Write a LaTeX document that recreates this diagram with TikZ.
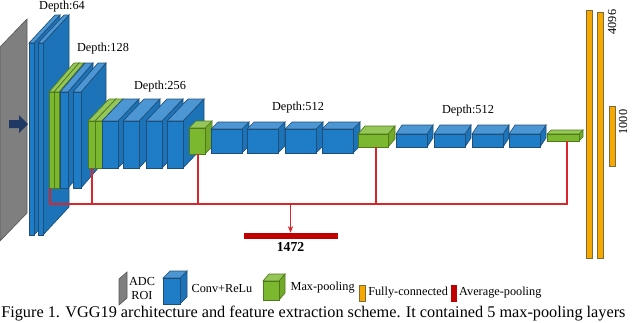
\documentclass[tikz,border=0pt]{standalone}
\usepackage{fontspec}
\setmainfont{Liberation Serif}
\usepackage{xcolor}
\definecolor{convBlue}{HTML}{1F7DC8}
\definecolor{convEdge}{HTML}{1F4E79}
\definecolor{poolGreen}{HTML}{7CB82F}
\definecolor{poolEdge}{HTML}{4E7A1A}
\definecolor{roiGray}{HTML}{7F7F7F}
\definecolor{roiEdge}{HTML}{595959}
\definecolor{fcOrange}{HTML}{F5A800}
\definecolor{fcEdge}{HTML}{7F6A3A}
\definecolor{avgRed}{HTML}{C00000}
\definecolor{linkRed}{HTML}{D9262B}
\definecolor{arrowNavy}{HTML}{1F3864}
\usepackage{tikz}
\usetikzlibrary{arrows.meta, positioning, calc}

% cuboid: front face top-left (x,y), width, height, depth dx, dy, fill, edge
\newcommand{\layerbox}[8]{%
  \filldraw[draw=#8, fill=#7!92!black, line width=0.5pt] (#1+#3,#2) -- ++(#5,-#6) -- ++(0,#4) -- ++(-#5,#6) -- cycle;
  \filldraw[draw=#8, fill=#7!80!white, line width=0.5pt] (#1,#2) -- ++(#5,-#6) -- ++(#3,0) -- ++(-#5,#6) -- cycle;
  \filldraw[draw=#8, fill=#7, line width=0.5pt] (#1,#2) rectangle ++(#3,#4);
}

\begin{document}
\begin{tikzpicture}[
    x=0.75pt, y=-0.75pt,
    depthLbl/.style={font=\fontsize{9.2}{10.5}\selectfont, inner sep=1pt},
    legendTxt/.style={font=\fontsize{9.2}{10.5}\selectfont, inner sep=1pt},
    captionTxt/.style={font=\fontsize{12.2}{14}\selectfont, inner sep=0pt},
    fcBar/.style={draw=fcEdge, fill=fcOrange, line width=0.5pt, inner sep=0pt, minimum width=4.5pt},
    avgBar/.style={draw=avgRed, fill=avgRed, inner sep=0pt},
    redLine/.style={draw=linkRed, line width=0.9pt}
]
\useasboundingbox (0,0) rectangle (640,322);
\clip (0,0) rectangle (640,322);

% input ROI and arrow
\filldraw[draw=roiEdge, fill=roiGray, line width=0.5pt] (0,47) -- (27,19) -- (27,213) -- (0,241) -- cycle;
\fill[arrowNavy] (9,120) -- (19,120) -- (19,115) -- (28,124) -- (19,133) -- (19,128) -- (9,128) -- cycle;

% Depth:64
\foreach \x in {29,38} {\layerbox{\x}{43}{5}{192}{26}{28}{convBlue}{convEdge}}
\node[depthLbl] (d64) at (62,6.5) {Depth:64};

% Depth:128
\foreach \x in {49,54} {\layerbox{\x}{92}{5}{96}{25}{29}{poolGreen}{poolEdge}}
\foreach \x in {60,73} {\layerbox{\x}{92}{8}{96}{25}{29}{convBlue}{convEdge}}
\node[depthLbl] (d128) at (103,49) {Depth:128};

% Depth:256
\foreach \x in {88,95} {\layerbox{\x}{121}{7}{47}{21}{22}{poolGreen}{poolEdge}}
\foreach \x in {102,123,146,167} {\layerbox{\x}{121}{16}{47}{21}{22}{convBlue}{convEdge}}
\node[depthLbl] (d256) at (160,87) {Depth:256};

% Depth:512
\layerbox{189}{128}{16}{26}{7}{7}{poolGreen}{poolEdge}
\foreach \x in {211,247,285,322} {\layerbox{\x}{129}{31}{24}{7}{7}{convBlue}{convEdge}}
\node[depthLbl] (d512a) at (298,108) {Depth:512};

% Depth:512
\layerbox{358}{134}{30}{13}{7}{8}{poolGreen}{poolEdge}
\foreach \x in {396,434,472,509} {\layerbox{\x}{134}{31}{13}{6}{9}{convBlue}{convEdge}}
\node[depthLbl] (d512b) at (468,111) {Depth:512};
\layerbox{547}{134}{32}{7}{4}{4}{poolGreen}{poolEdge}

% fully-connected
\node[fcBar, minimum height=186pt] (fc1) at (589,134) {};
\node[fcBar, minimum height=184.5pt] (fc2) at (600,135) {};
\node[fcBar, minimum height=45pt] (fc3) at (612,136) {};
\node[depthLbl, rotate=90] (n4096) at (612,22) {4096};
\node[depthLbl, rotate=90] (n1000) at (623,122) {1000};

% average-pooling taps
\coordinate (tap1) at (50,188);
\coordinate (tap2) at (92,168);
\coordinate (tap3) at (198,154);
\coordinate (tap4) at (376,147);
\coordinate (tap5) at (567,141);
\coordinate (bus) at (0,204);
\node[avgBar, minimum width=69.75pt, minimum height=3.75pt] (avg) at (290.5,235.5) {};
\node[font=\fontsize{10.3}{12}\selectfont\bfseries, inner sep=1pt, below=2pt of avg] (avgLbl) {1472};
\draw[redLine] (tap1) -- (tap1 |- bus) -- (tap5 |- bus) -- (tap5);
\foreach \t in {tap2,tap3,tap4} {\draw[redLine] (\t) -- (\t |- bus);}
\draw[redLine, -{Stealth[length=5pt, width=4pt]}] (avg.north |- bus) -- (avg.north);

% legend
\filldraw[draw=roiEdge, fill=roiGray, line width=0.5pt] (119,279) -- (127,272) -- (127,298) -- (119,305) -- cycle;
\node[legendTxt, align=center] (kRoi) at (142,288) {ADC\\ROI};
\layerbox{163}{278}{17}{26}{7}{7}{convBlue}{convEdge}
\node[legendTxt, anchor=west] (kConv) at (190,288) {Conv+ReLu};
\layerbox{263}{281}{16}{19}{6}{7}{poolGreen}{poolEdge}
\node[legendTxt, anchor=west] (kPool) at (289,288) {Max-pooling};
\node[fcBar, minimum height=12pt] (kFc) at (362,293) {};
\node[legendTxt, right=1pt of kFc] (kFcTxt) {Fully-connected};
\node[avgBar, minimum width=3.75pt, minimum height=12pt] (kAvg) at (453.5,293) {};
\node[legendTxt, right=1pt of kAvg] (kAvgTxt) {Average-pooling};

% caption
\node[captionTxt, anchor=base west] (caption) at (1,317.5) {Figure 1. VGG19 architecture and feature extraction scheme. It contained 5 max-pooling layers};
\end{tikzpicture}
\end{document}
